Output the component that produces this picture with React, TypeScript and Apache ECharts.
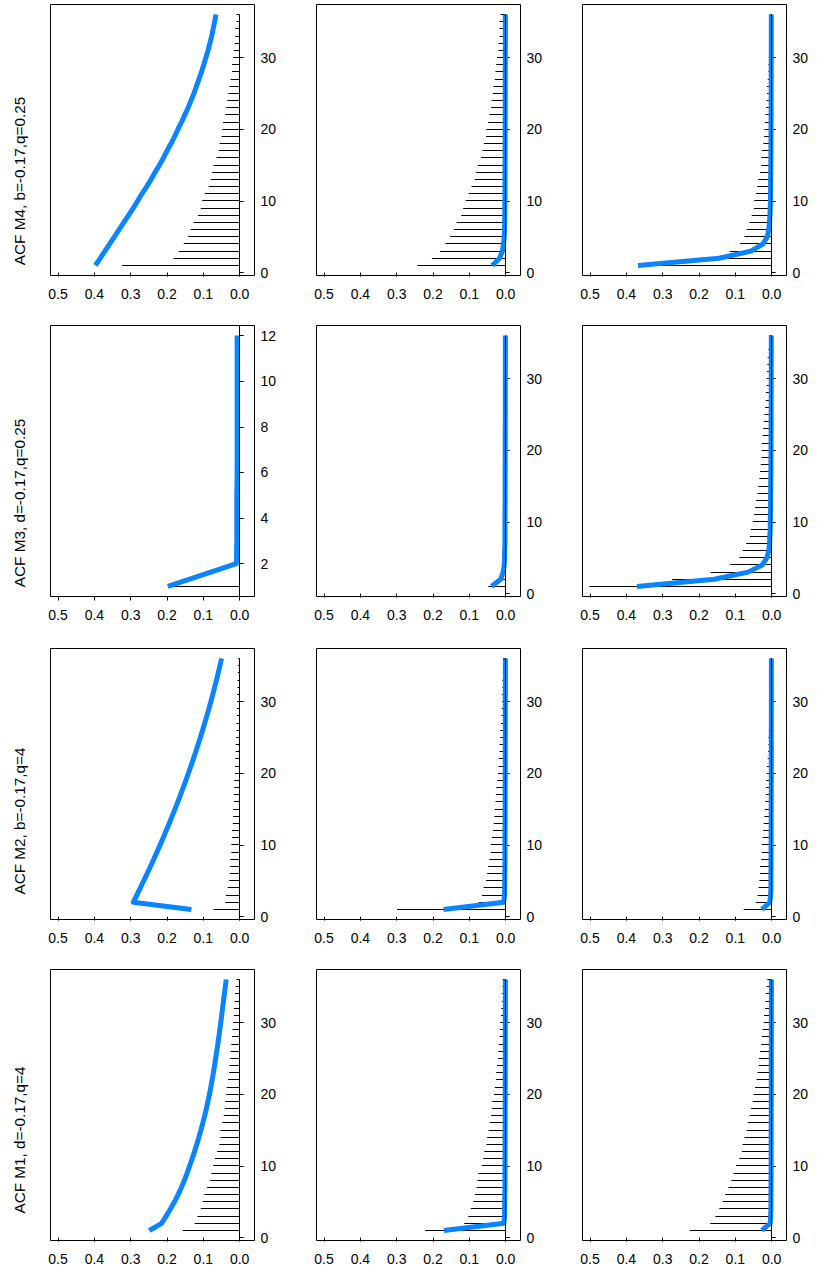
import React, { useEffect, useRef } from "react";
import * as echarts from "echarts";

// ---------- categories / ticks ----------
const LAGS = [1,2,3,4,5,6,7,8,9,10,11,12,13,14,15,16,17,18,19,20,21,22,23,24,25,26,27,28,29,30,31,32,33,34,35,36];
const LAGS_SHORT = [1,2,3,4,5,6,7,8,9,10,11,12];
const X_TICKS = [0, 0.1, 0.2, 0.3, 0.4, 0.5];
const Y_TICKS_LONG = [0, 10, 20, 30];
const Y_TICKS_SHORT = [2, 4, 6, 8, 10, 12];
const ROW_TITLES = [
  "ACF M4, b=-0.17,q=0.25",
  "ACF M3, d=-0.17,q=0.25",
  "ACF M2, b=-0.17,q=4",
  "ACF M1, d=-0.17,q=4",
];

// ---------- row 1: M4, b=-0.17, q=0.25 ----------
const m4SampleA = [0.324,0.182,0.168,0.154,0.142,0.135,0.127,0.115,0.107,0.103,0.096,0.085,0.080,0.076,0.072,0.064,0.058,0.055,0.050,0.048,0.046,0.040,0.037,0.034,0.031,0.028,0.025,0.021,0.021,0.018,0.016,0.014,0.012,0.012,0.009,0.009];
const m4TheoryA = [0.397,0.384,0.371,0.358,0.345,0.332,0.319,0.306,0.293,0.281,0.269,0.256,0.244,0.233,0.221,0.210,0.200,0.189,0.179,0.170,0.160,0.151,0.142,0.134,0.126,0.119,0.112,0.105,0.099,0.093,0.087,0.082,0.077,0.073,0.069,0.065];
const m4SampleB = [0.243,0.203,0.181,0.166,0.153,0.143,0.135,0.122,0.117,0.110,0.102,0.094,0.085,0.082,0.077,0.068,0.064,0.060,0.054,0.053,0.048,0.045,0.040,0.039,0.035,0.034,0.030,0.028,0.026,0.024,0.020,0.020,0.017,0.017,0.017,0.014];
const m4TheoryB = [0.037,0.017,0.009,0.006,0.004,0.003,0.003,0.0025,0.0025,0.002,0.002,0.002,0.002,0.0018,0.0018,0.0016,0.0016,0.0015,0.0015,0.0014,0.0014,0.0013,0.0013,0.0012,0.0012,0.0011,0.0011,0.001,0.001,0.001,0.001,0.0009,0.0009,0.0009,0.0008,0.0008];
const m4SampleC = [0.330,0.150,0.116,0.087,0.075,0.069,0.061,0.055,0.049,0.048,0.043,0.040,0.037,0.032,0.029,0.029,0.027,0.023,0.021,0.020,0.019,0.017,0.015,0.014,0.013,0.013,0.011,0.009,0.009,0.008,0.007,0.006,0.005,0.005,0.005,0.005];
const m4TheoryC = [0.368,0.145,0.057,0.024,0.012,0.008,0.006,0.005,0.004,0.0035,0.003,0.003,0.0028,0.0026,0.0024,0.0022,0.002,0.002,0.0018,0.0018,0.0017,0.0016,0.0015,0.0015,0.0014,0.0014,0.0013,0.0013,0.0012,0.0012,0.0011,0.0011,0.001,0.001,0.001,0.001];

// ---------- row 2: M3, d=-0.17, q=0.25 ----------
const m3SampleA = [0.190,0.002,0.001,0.001,0.001,0.001,0.001,0.001,0.001,0.001,0.001,0.001];
const m3TheoryA = [0.198,0.009,0.008,0.008,0.008,0.007,0.007,0.007,0.007,0.007,0.007,0.007];
const m3SampleB = [0.048,0.022,0.012,0.010,0.009,0.008,0.007,0.004,0.003,0.002,0.002,0.002,0.001,0.001,0.001,0.001,0.001,0.001,0.001,0.001,0.001,0.001,0.001,0.001,0.001,0.001,0.001,0.001,0.001,0.001,0.001,0.001,0.001,0.001,0.001,0.001];
const m3TheoryB = [0.039,0.014,0.007,0.004,0.003,0.003,0.002,0.002,0.002,0.002,0.0018,0.0018,0.0016,0.0016,0.0015,0.0015,0.0014,0.0014,0.0013,0.0013,0.0012,0.0012,0.0011,0.0011,0.001,0.001,0.001,0.001,0.001,0.001,0.0009,0.0009,0.0009,0.0008,0.0008,0.0008];
const m3SampleC = [0.502,0.274,0.168,0.114,0.089,0.080,0.070,0.060,0.057,0.052,0.048,0.046,0.043,0.039,0.037,0.034,0.032,0.030,0.028,0.028,0.027,0.025,0.023,0.021,0.020,0.018,0.016,0.016,0.014,0.014,0.013,0.012,0.011,0.009,0.007,0.006];
const m3TheoryC = [0.371,0.158,0.065,0.026,0.013,0.008,0.006,0.005,0.004,0.004,0.0035,0.003,0.003,0.0028,0.0026,0.0024,0.0022,0.002,0.002,0.0018,0.0018,0.0017,0.0016,0.0015,0.0015,0.0014,0.0014,0.0013,0.0013,0.0012,0.0012,0.0011,0.0011,0.001,0.001,0.001];

// ---------- row 3: M2, b=-0.17, q=4 ----------
const m2SampleA = [0.072,0.040,0.038,0.033,0.029,0.027,0.026,0.026,0.023,0.023,0.021,0.021,0.019,0.018,0.018,0.016,0.016,0.015,0.015,0.013,0.013,0.012,0.011,0.011,0.010,0.009,0.009,0.008,0.008,0.007,0.007,0.006,0.006,0.005,0.005,0.005];
const m2TheoryA = [0.133,0.293,0.2832,0.2736,0.2641,0.2548,0.2456,0.2366,0.2278,0.2191,0.2106,0.2022,0.1940,0.1860,0.1781,0.1704,0.1628,0.1555,0.1482,0.1412,0.1342,0.1275,0.1209,0.1145,0.1082,0.1021,0.0962,0.0904,0.0848,0.0793,0.0740,0.0689,0.0639,0.0591,0.0544,0.0499];
const m2SampleB = [0.299,0.074,0.065,0.061,0.054,0.051,0.048,0.045,0.041,0.041,0.038,0.035,0.033,0.031,0.030,0.028,0.027,0.026,0.024,0.021,0.020,0.019,0.017,0.017,0.015,0.015,0.013,0.012,0.011,0.010,0.010,0.009,0.009,0.008,0.007,0.007];
const m2TheoryB = [0.171,0.006,0.003,0.003,0.0025,0.0025,0.002,0.002,0.002,0.002,0.0018,0.0018,0.0016,0.0016,0.0015,0.0015,0.0014,0.0014,0.0013,0.0013,0.0012,0.0012,0.0011,0.0011,0.001,0.001,0.001,0.001,0.001,0.001,0.0009,0.0009,0.0009,0.0008,0.0008,0.0008];
const m2SampleC = [0.077,0.044,0.039,0.036,0.034,0.032,0.032,0.029,0.027,0.027,0.025,0.023,0.022,0.020,0.019,0.018,0.016,0.016,0.015,0.014,0.013,0.011,0.010,0.009,0.009,0.008,0.007,0.007,0.006,0.006,0.006,0.005,0.005,0.005,0.004,0.004];
const m2TheoryC = [0.027,0.005,0.003,0.002,0.002,0.002,0.0018,0.0018,0.0016,0.0016,0.0015,0.0015,0.0014,0.0014,0.0013,0.0013,0.0012,0.0012,0.0011,0.0011,0.001,0.001,0.001,0.001,0.001,0.001,0.0009,0.0009,0.0009,0.0009,0.0008,0.0008,0.0008,0.0008,0.0008,0.0008];

// ---------- row 4: M1, d=-0.17, q=4 ----------
const m1SampleA = [0.157,0.124,0.116,0.107,0.102,0.097,0.090,0.081,0.078,0.073,0.068,0.062,0.056,0.053,0.053,0.048,0.044,0.041,0.040,0.037,0.036,0.032,0.029,0.028,0.026,0.025,0.023,0.021,0.020,0.018,0.016,0.016,0.014,0.013,0.011,0.009];
const m1TheoryA = [0.249,0.215,0.2025,0.1907,0.1795,0.1695,0.1605,0.1523,0.1447,0.1377,0.1309,0.1244,0.1182,0.1123,0.1067,0.1014,0.0964,0.0917,0.0873,0.0832,0.0794,0.0758,0.0724,0.0692,0.0661,0.0631,0.0602,0.0574,0.0547,0.0521,0.0496,0.0471,0.0446,0.0421,0.0396,0.0371];
const m1SampleB = [0.222,0.114,0.103,0.096,0.089,0.085,0.080,0.078,0.075,0.066,0.062,0.059,0.053,0.051,0.047,0.044,0.040,0.038,0.037,0.032,0.030,0.027,0.026,0.024,0.021,0.020,0.019,0.017,0.016,0.015,0.013,0.012,0.010,0.010,0.009,0.008];
const m1TheoryB = [0.170,0.005,0.003,0.003,0.0025,0.0025,0.002,0.002,0.002,0.002,0.0018,0.0018,0.0016,0.0016,0.0015,0.0015,0.0014,0.0014,0.0013,0.0013,0.0012,0.0012,0.0011,0.0011,0.001,0.001,0.001,0.001,0.001,0.001,0.0009,0.0009,0.0009,0.0008,0.0008,0.0008];
const m1SampleC = [0.225,0.169,0.155,0.144,0.135,0.128,0.119,0.111,0.105,0.098,0.089,0.082,0.080,0.075,0.069,0.066,0.061,0.057,0.052,0.050,0.046,0.042,0.039,0.036,0.035,0.032,0.029,0.027,0.025,0.022,0.021,0.018,0.017,0.016,0.014,0.012];
const m1TheoryC = [0.027,0.004,0.003,0.002,0.002,0.002,0.0018,0.0018,0.0016,0.0016,0.0015,0.0015,0.0014,0.0014,0.0013,0.0013,0.0012,0.0012,0.0011,0.0011,0.001,0.001,0.001,0.001,0.001,0.001,0.0009,0.0009,0.0009,0.0009,0.0008,0.0008,0.0008,0.0008,0.0008,0.0008];

// ---------- layout / style ----------
const COL_LEFT = [50.5, 316.5, 582.5];
const ROW_TOP = [4.5, 325.5, 648.5, 969.5];
const TITLE_CENTER_Y = [181, 503, 821, 1140];
const BOX_W = 204;
const BOX_H = 271;
const X_MIN = -0.0408;
const X_MAX = 0.5208;
const BLUE = "#0A84FF";
const FONT = "'Liberation Sans', Arial, Helvetica, sans-serif";

type Panel = {
  row: number;
  col: number;
  lags: number[];
  sample: number[];
  theory: number[];
  yTicks: number[];
  yMin: number;
  yMax: number;
};

const LONG = { lags: LAGS, yTicks: Y_TICKS_LONG, yMin: -0.4, yMax: 37.4 };
const SHORT = { lags: LAGS_SHORT, yTicks: Y_TICKS_SHORT, yMin: 0.56, yMax: 12.44 };

const PANELS: Panel[] = [
  { row: 0, col: 0, sample: m4SampleA, theory: m4TheoryA, ...LONG },
  { row: 0, col: 1, sample: m4SampleB, theory: m4TheoryB, ...LONG },
  { row: 0, col: 2, sample: m4SampleC, theory: m4TheoryC, ...LONG },
  { row: 1, col: 0, sample: m3SampleA, theory: m3TheoryA, ...SHORT },
  { row: 1, col: 1, sample: m3SampleB, theory: m3TheoryB, ...LONG },
  { row: 1, col: 2, sample: m3SampleC, theory: m3TheoryC, ...LONG },
  { row: 2, col: 0, sample: m2SampleA, theory: m2TheoryA, ...LONG },
  { row: 2, col: 1, sample: m2SampleB, theory: m2TheoryB, ...LONG },
  { row: 2, col: 2, sample: m2SampleC, theory: m2TheoryC, ...LONG },
  { row: 3, col: 0, sample: m1SampleA, theory: m1TheoryA, ...LONG },
  { row: 3, col: 1, sample: m1SampleB, theory: m1TheoryB, ...LONG },
  { row: 3, col: 2, sample: m1SampleC, theory: m1TheoryC, ...LONG },
];

const crisp = (v: number) => Math.round(v - 0.5) + 0.5;

function buildOption() {
  const grid = PANELS.map((p) => ({
    left: COL_LEFT[p.col],
    top: ROW_TOP[p.row],
    width: BOX_W,
    height: BOX_H,
    show: true,
    borderColor: "#000",
    borderWidth: 1,
    backgroundColor: "transparent",
    containLabel: false,
    outerBoundsMode: "none",
  }));

  const xAxis = PANELS.map((p, i) => ({
    gridIndex: i,
    type: "value",
    position: "bottom",
    inverse: true,
    min: X_MIN,
    max: X_MAX,
    axisLine: { show: false },
    splitLine: { show: false },
    axisTick: {
      show: true,
      inside: false,
      length: 4,
      customValues: X_TICKS,
      lineStyle: { color: "#000", width: 1 },
    },
    axisLabel: {
      show: true,
      customValues: X_TICKS,
      formatter: (v: number) => v.toFixed(1),
      color: "#000",
      fontSize: 14,
      fontFamily: FONT,
      margin: 11,
    },
  }));

  const yAxis = PANELS.map((p, i) => ({
    gridIndex: i,
    type: "value",
    position: "right",
    min: p.yMin,
    max: p.yMax,
    axisLine: { show: false },
    splitLine: { show: false },
    axisTick: {
      show: true,
      inside: false,
      length: 4,
      customValues: p.yTicks,
      lineStyle: { color: "#000", width: 1 },
    },
    axisLabel: {
      show: true,
      customValues: p.yTicks,
      formatter: (v: number) => String(v),
      color: "#000",
      fontSize: 14,
      fontFamily: FONT,
      margin: 6,
    },
  }));

  const series: any[] = [];
  PANELS.forEach((p, i) => {
    // sample ACF: horizontal spikes from 0 to the value at each lag
    series.push({
      type: "custom",
      xAxisIndex: i,
      yAxisIndex: i,
      silent: true,
      clip: true,
      z: 2,
      encode: { x: 0, y: 1 },
      data: p.lags.map((l, k) => [p.sample[k], l]),
      renderItem: (params: any, api: any) => {
        const v = api.value(0);
        const l = api.value(1);
        const a = api.coord([0, l]);
        const b = api.coord([v, l]);
        const y = crisp(a[1]);
        return {
          type: "line",
          shape: { x1: crisp(a[0]), y1: y, x2: b[0], y2: y },
          style: { stroke: "#000", lineWidth: 1 },
        };
      },
    });
    // theoretical ACF
    series.push({
      type: "line",
      xAxisIndex: i,
      yAxisIndex: i,
      silent: true,
      clip: true,
      z: 3,
      symbol: "none",
      showSymbol: false,
      data: p.lags.map((l, k) => [p.theory[k], l]),
      lineStyle: { color: BLUE, width: 5, cap: "butt", join: "round" },
    });
    // zero reference line
    series.push({
      type: "custom",
      xAxisIndex: i,
      yAxisIndex: i,
      silent: true,
      clip: true,
      z: 4,
      encode: { x: 0, y: 1 },
      data: [[0, LAGS[LAGS.length - 1]]],
      renderItem: (params: any, api: any) => {
        const top = api.coord([0, api.value(1)]);
        const bottom = api.coord([0, p.yMin]);
        const x = crisp(top[0]);
        return {
          type: "line",
          shape: { x1: x, y1: bottom[1], x2: x, y2: top[1] },
          style: { stroke: "#000", lineWidth: 1 },
        };
      },
    });
  });

  const graphic = ROW_TITLES.map((t, r) => ({
    type: "text",
    x: 19.5,
    y: TITLE_CENTER_Y[r],
    rotation: Math.PI / 2,
    silent: true,
    style: {
      text: t,
      fontSize: 15.3,
      fontFamily: FONT,
      fill: "#000",
      align: "center",
      verticalAlign: "middle",
    },
  }));

  return {
    animation: false,
    backgroundColor: "#fff",
    grid,
    xAxis,
    yAxis,
    series,
    graphic,
  };
}

export default function App() {
  const ref = useRef<HTMLDivElement>(null);
  useEffect(() => {
    if (!ref.current) return;
    const chart = echarts.init(ref.current, null, { renderer: "svg" });
    chart.setOption(buildOption() as any);
    return () => chart.dispose();
  }, []);
  return (
    <div
      ref={ref}
      style={{ position: "absolute", left: 0, top: 0, width: 817, height: 1271, background: "#fff" }}
    />
  );
}
